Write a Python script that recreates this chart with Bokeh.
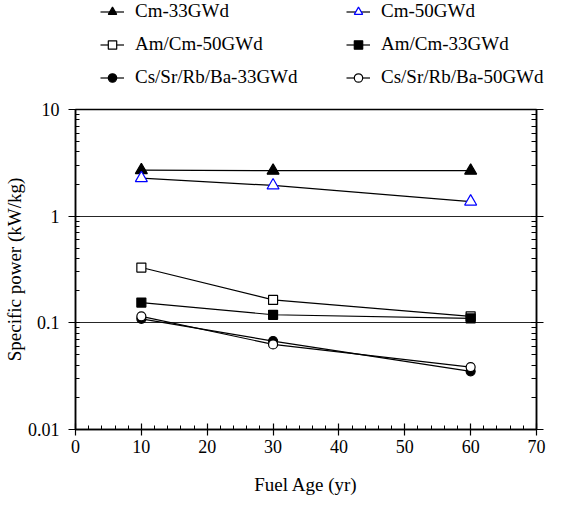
from bokeh.plotting import figure
from bokeh.layouts import column
from bokeh.models import (Legend, LegendItem, LogAxis, LogTicker, SingleIntervalTicker,
                          CustomJSTickFormatter, Range1d)
from bokeh.embed import file_html
from bokeh.resources import INLINE

# ---- data ----
fuel_age = [10, 30, 60]
cm_33 = [2.70, 2.67, 2.67]
cm_50 = [2.27, 1.94, 1.37]
amcm_50 = [0.330, 0.164, 0.115]
amcm_33 = [0.155, 0.119, 0.110]
cs_33 = [0.109, 0.0675, 0.0351]
cs_50 = [0.115, 0.0628, 0.0385]
x_ticks_interval = 10

series_specs = [
    # label, values, marker, size, fill, outline
    ("Cm-33GWd", cm_33, "triangle", 12, "black", "black"),
    ("Cm-50GWd", cm_50, "triangle", 12, "white", "blue"),
    ("Am/Cm-50GWd", amcm_50, "square", 9, "white", "black"),
    ("Am/Cm-33GWd", amcm_33, "square", 9, "black", "black"),
    ("Cs/Sr/Rb/Ba-33GWd", cs_33, "circle", 9, "black", "black"),
    ("Cs/Sr/Rb/Ba-50GWd", cs_50, "circle", 9, "white", "black"),
]

FONT = "Liberation Serif"

# ================= main chart =================
p = figure(width=548, height=400, y_axis_type="log",
           x_range=Range1d(0, 70), y_range=Range1d(0.01, 10),
           output_backend="svg", toolbar_location=None,
           min_border_left=69, min_border_right=12,
           min_border_top=9, min_border_bottom=71)
p.frame_align = False

p.outline_line_color = "black"
p.outline_line_width = 1.5
p.background_fill_color = "white"
p.border_fill_color = "white"

p.xgrid.visible = False
p.ygrid.grid_line_color = "black"
p.ygrid.grid_line_width = 1
p.ygrid.grid_line_alpha = 0.85
p.ygrid.minor_grid_line_color = None

xa = p.xaxis[0]
xa.ticker = SingleIntervalTicker(interval=x_ticks_interval, num_minor_ticks=5)
xa.axis_label = "Fuel Age (yr)"
ya = p.yaxis[0]
ya.ticker = LogTicker(num_minor_ticks=10)
ya.axis_label = "Specific power (kW/kg)"
ya.formatter = CustomJSTickFormatter(code="return tick.toString();")

for ax in (xa, ya):
    ax.axis_line_color = "black"
    ax.axis_line_width = 1.5
    ax.major_tick_line_color = "black"
    ax.minor_tick_line_color = "black"
    ax.major_tick_line_width = 1.2
    ax.minor_tick_line_width = 1
    ax.major_label_text_font = FONT
    ax.major_label_text_font_size = "18px"
    ax.major_label_text_color = "black"
    ax.axis_label_text_font = FONT
    ax.axis_label_text_font_size = "19px"
    ax.axis_label_text_font_style = "normal"
    ax.axis_label_text_color = "black"

xa.major_tick_in = 6
xa.major_tick_out = 6
xa.minor_tick_in = 4
xa.minor_tick_out = 0
xa.major_label_standoff = 4
xa.axis_label_standoff = 18

ya.major_tick_in = 0
ya.major_tick_out = 7
ya.minor_tick_in = 4
ya.minor_tick_out = 0
ya.major_label_standoff = 9
ya.axis_label_standoff = 0

ra = LogAxis(ticker=LogTicker(num_minor_ticks=10),
             formatter=CustomJSTickFormatter(code="return '';"))
ra.axis_line_color = "black"
ra.axis_line_width = 1.5
ra.major_tick_in = 5
ra.major_tick_out = 7
ra.minor_tick_in = 5
ra.minor_tick_out = 0
ra.major_tick_line_color = "black"
ra.minor_tick_line_color = "black"
ra.major_label_standoff = 0
p.add_layout(ra, "right")

for label, vals, marker, size, fill, outline in series_specs:
    p.line(fuel_age, vals, line_color="black", line_width=1.2)
    p.scatter(fuel_age, vals, marker=marker, size=size,
              fill_color=fill, line_color=outline, line_width=1.2)

# ================= legend strip (above the chart) =================
lg_fig = figure(width=548, height=100, x_range=Range1d(0, 70), y_range=Range1d(100, 200),
                output_backend="svg", toolbar_location=None,
                x_axis_location=None, y_axis_location=None,
                min_border_left=0, min_border_right=0, min_border_top=0, min_border_bottom=0)
lg_fig.frame_align = False
lg_fig.outline_line_color = None
lg_fig.xgrid.visible = False
lg_fig.ygrid.visible = False
lg_fig.background_fill_color = "white"
lg_fig.border_fill_color = "white"

items = []
for label, vals, marker, size, fill, outline in series_specs:
    # same series drawn here only to give the legend its glyphs (out of view)
    rl = lg_fig.line(fuel_age, vals, line_color="black", line_width=1.2)
    rs = lg_fig.scatter(fuel_age, vals, marker=marker, size=size,
                        fill_color=fill, line_color=outline, line_width=1.2)
    items.append(LegendItem(label=label, renderers=[rl, rs]))

def make_legend(its, x):
    lg = Legend(items=its, location=(x, 12), orientation="vertical")
    lg.border_line_color = None
    lg.background_fill_alpha = 0
    lg.padding = 0
    lg.margin = 0
    lg.spacing = 11
    lg.glyph_width = 24
    lg.glyph_height = 21
    lg.label_height = 21
    lg.label_standoff = 11
    lg.label_text_font = FONT
    lg.label_text_font_size = "19px"
    lg.label_text_color = "black"
    return lg

lg_fig.add_layout(make_legend([items[0], items[2], items[4]], 100), "center")
lg_fig.add_layout(make_legend([items[1], items[3], items[5]], 346), "center")

page = column(lg_fig, p, spacing=0)
open("out.html", "w").write(file_html(page, INLINE))
